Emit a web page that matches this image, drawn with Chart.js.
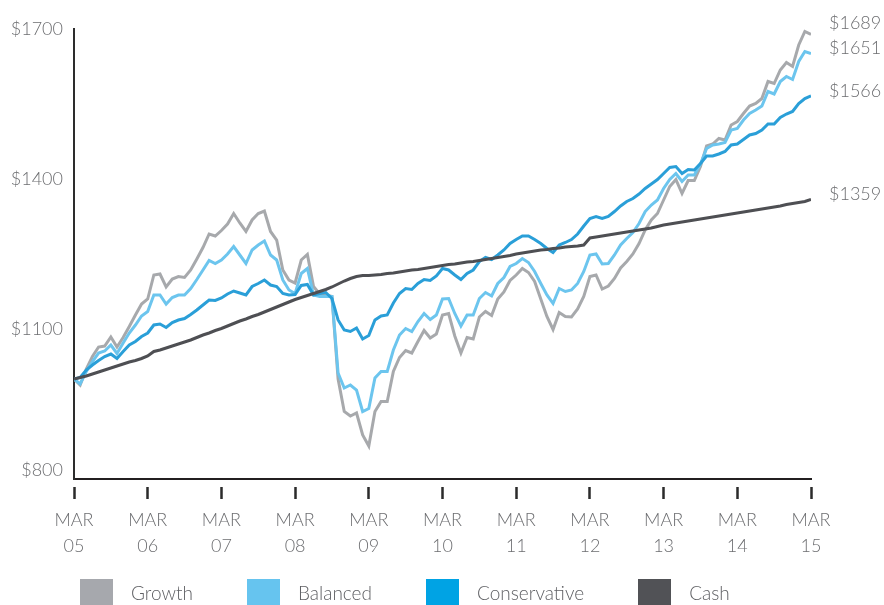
<!DOCTYPE html>
<html>
<head>
<meta charset="utf-8">
<script src="https://cdn.jsdelivr.net/npm/chart.js@4/dist/chart.umd.min.js"></script>
<style>
  html, body { margin: 0; padding: 0; background: #ffffff; }
  #wrap { position: relative; width: 884px; height: 605px; overflow: hidden; }
  #chart { position: absolute; left: 0; top: 0; }
  #legend { position: absolute; left: 80px; top: 579px; display: flex; align-items: center; gap: 54px;
            font-family: Lato, "Open Sans", sans-serif; font-weight: 300; font-size: 19px; color: #5f6064; }
  .item { display: flex; align-items: center; }
  .box { width: 33px; height: 26px; margin-right: 18px; }
</style>
</head>
<body>
<div id="wrap">
  <canvas id="chart" width="884" height="605"></canvas>
  <div id="legend"></div>
</div>
<script>
// ---- data ----
const yearLabels = ['05','06','07','08','09','10','11','12','13','14','15'];
const tickMonth = 'MAR';
const yTickValues = [800, 1100, 1400, 1700];
const seriesNames = ['Growth', 'Balanced', 'Conservative', 'Cash'];

const growth = [
  1000, 988, 1020, 1045, 1064, 1066, 1084, 1064, 1083, 1105,
  1128, 1150, 1160, 1208, 1210, 1184, 1200, 1205, 1203, 1218,
  1240, 1263, 1290, 1286, 1297, 1310, 1331, 1312, 1295, 1318,
  1331, 1336, 1295, 1278, 1218, 1198, 1192, 1238, 1249, 1185,
  1170, 1168, 1165, 1000, 935, 926, 932, 888, 866, 935,
  955, 955, 1015, 1043, 1057, 1052, 1075, 1097, 1082, 1090,
  1128, 1131, 1086, 1052, 1083, 1080, 1124, 1135, 1127, 1160,
  1174, 1197, 1208, 1221, 1213, 1195, 1160, 1125, 1099, 1133,
  1125, 1124, 1140, 1165, 1205, 1208, 1180, 1186, 1201, 1222,
  1235, 1250, 1271, 1298, 1318, 1331, 1358, 1385, 1399, 1371,
  1397, 1397, 1425, 1466, 1470, 1481, 1478, 1508, 1515, 1531,
  1546, 1551, 1561, 1595, 1591, 1618, 1633, 1625, 1668, 1695,
  1689
];
const balanced = [
  1000, 990, 1015, 1035, 1052, 1056, 1068, 1051, 1072, 1092,
  1108, 1126, 1135, 1168, 1168, 1150, 1163, 1168, 1168, 1181,
  1199, 1218, 1237, 1231, 1238, 1250, 1265, 1248, 1231, 1258,
  1268, 1276, 1248, 1238, 1198, 1178, 1171, 1211, 1221, 1168,
  1165, 1165, 1165, 1012, 982, 988, 978, 935, 941, 1002,
  1015, 1015, 1058, 1088, 1101, 1095, 1115, 1131, 1119, 1128,
  1160, 1161, 1131, 1106, 1128, 1128, 1161, 1173, 1166, 1191,
  1203, 1225, 1231, 1241, 1233, 1215, 1191, 1168, 1151, 1181,
  1175, 1178, 1191, 1215, 1248, 1250, 1230, 1231, 1248, 1268,
  1281, 1293, 1311, 1335, 1348, 1358, 1381, 1399, 1411, 1395,
  1408, 1408, 1430, 1461, 1468, 1470, 1473, 1498, 1501, 1518,
  1531, 1538, 1546, 1575, 1570, 1595, 1605, 1599, 1635, 1655,
  1651
];
const conservative = [
  1000, 1003, 1018, 1028, 1037, 1045, 1050, 1041, 1055, 1068,
  1075, 1085, 1092, 1108, 1110, 1103, 1113, 1118, 1121, 1129,
  1138, 1148, 1158, 1157, 1162, 1170, 1176, 1172, 1168, 1185,
  1191, 1198, 1188, 1185, 1171, 1168, 1169, 1187, 1189, 1168,
  1171, 1173, 1161, 1118, 1098, 1095, 1102, 1080, 1087, 1118,
  1126, 1128, 1152, 1171, 1181, 1179, 1191, 1199, 1197, 1206,
  1221, 1218, 1208, 1199, 1211, 1218, 1235, 1243, 1239, 1248,
  1258, 1271, 1279, 1286, 1286, 1279, 1271, 1261, 1253, 1268,
  1273, 1279, 1290, 1306, 1321, 1325, 1321, 1325, 1335, 1346,
  1355, 1361, 1370, 1381, 1390, 1399, 1411, 1423, 1425, 1411,
  1419, 1418, 1431, 1446, 1446, 1450, 1455, 1468, 1470, 1479,
  1488, 1491, 1498, 1510, 1510, 1523, 1530, 1535, 1551, 1561,
  1566
];
const cash = [
  1000, 1003, 1006, 1010, 1014, 1018, 1022, 1026, 1030, 1034,
  1037, 1041, 1046, 1055, 1058, 1062, 1066, 1070, 1074, 1078,
  1083, 1088, 1092, 1097, 1101, 1106, 1111, 1116, 1120, 1125,
  1129, 1134, 1139, 1144, 1149, 1154, 1159, 1163, 1167, 1171,
  1175, 1179, 1184, 1190, 1196, 1201, 1205, 1207, 1207, 1208,
  1209, 1211, 1212, 1214, 1216, 1218, 1219, 1221, 1223, 1225,
  1227, 1229, 1230, 1232, 1234, 1235, 1237, 1239, 1241, 1243,
  1245, 1247, 1250, 1252, 1254, 1256, 1258, 1259, 1261, 1262,
  1264, 1265, 1266, 1268, 1282, 1284, 1286, 1288, 1290, 1292,
  1294, 1296, 1298, 1300, 1302, 1305, 1308, 1310, 1312, 1314,
  1316, 1318, 1320, 1322, 1324, 1326, 1328, 1330, 1332, 1334,
  1336, 1338, 1340, 1342, 1344, 1346, 1349, 1351, 1353, 1355,
  1359
];

// ---- styles ----
const lineColors = ['#a7a9ac', '#6cc5ee', '#2a9fd8', '#4e4f53'];
const boxColors  = ['#a6a8ad', '#66c4ef', '#00a3e4', '#515256'];
const drawOrder  = [4, 3, 2, 1];
const textColor = '#6d6e71';
const axisColor = '#231f20';
const FONT = 'Lato, "Open Sans", sans-serif';

const seriesValues = [growth, balanced, conservative, cash];

const toPoints = arr => arr.map((v, i) => ({ x: i, y: v }));

const endLabels = {
  id: 'endLabels',
  afterDatasetsDraw(chart) {
    const ctx = chart.ctx;
    const area = chart.chartArea;
    const items = chart.data.datasets.map((ds, i) => {
      const meta = chart.getDatasetMeta(i);
      const pt = meta.data[meta.data.length - 1];
      const val = ds.data[ds.data.length - 1].y;
      return { y: pt.y - 5, text: '$' + val };
    }).sort((a, b) => b.y - a.y);
    for (let k = 1; k < items.length; k++) {
      if (items[k - 1].y - items[k].y < 25) items[k].y = items[k - 1].y - 25;
    }
    ctx.save();
    ctx.font = '300 18px ' + FONT;
    ctx.fillStyle = textColor;
    ctx.textAlign = 'left';
    ctx.textBaseline = 'middle';
    items.forEach(it => ctx.fillText(it.text, area.right + 18, it.y));
    ctx.restore();
  }
};

Chart.defaults.font.family = FONT;
Chart.defaults.font.size = 18;
Chart.defaults.font.weight = '300';
Chart.defaults.color = textColor;

new Chart(document.getElementById('chart'), {
  type: 'line',
  data: {
    datasets: seriesNames.map((name, i) => ({
      label: name,
      data: toPoints(seriesValues[i]),
      borderColor: lineColors[i],
      backgroundColor: lineColors[i],
      borderWidth: 3,
      pointRadius: 0,
      tension: 0,
      fill: false,
      order: drawOrder[i]
    }))
  },
  options: {
    responsive: false,
    animation: false,
    events: [],
    layout: { padding: { top: 29, right: 73, bottom: 0, left: 0 } },
    plugins: { legend: { display: false }, tooltip: { enabled: false } },
    scales: {
      x: {
        type: 'linear',
        min: 0,
        max: 120,
        afterFit(scale) { scale.height = 126; },
        afterBuildTicks(scale) { scale.ticks = yearLabels.map((_, k) => ({ value: k * 12 })); },
        grid: {
          display: true,
          drawOnChartArea: false,
          drawTicks: true,
          tickLength: 20,
          tickWidth: 2.5,
          tickColor: '#2b2b2b',
          tickBorderDash: [0, 7, 12]
        },
        border: { display: true, color: axisColor, width: 2 },
        ticks: {
          autoSkip: false,
          maxRotation: 0,
          padding: 8,
          color: textColor,
          font: { size: 18, weight: '300', lineHeight: '26px' },
          callback: v => [tickMonth, yearLabels[Math.round(v / 12)]]
        }
      },
      y: {
        min: 800,
        max: 1700,
        afterFit(scale) { scale.width = 74; },
        afterBuildTicks(scale) { scale.ticks = yTickValues.map(v => ({ value: v })); },
        grid: { display: false, drawTicks: false },
        border: { display: true, color: '#2d2d2d', width: 2 },
        ticks: {
          padding: 11,
          color: textColor,
          font: { size: 18, weight: '300', lineHeight: '18px' },
          callback: v => (v === yTickValues[0] ? ['$' + v, ''] : '$' + v)
        }
      }
    }
  },
  plugins: [endLabels]
});

// ---- legend (HTML) ----
const legend = document.getElementById('legend');
seriesNames.forEach((name, i) => {
  const item = document.createElement('div');
  item.className = 'item';
  const box = document.createElement('div');
  box.className = 'box';
  box.style.background = boxColors[i];
  const label = document.createElement('span');
  label.textContent = name;
  item.appendChild(box);
  item.appendChild(label);
  legend.appendChild(item);
});
</script>
</body>
</html>
